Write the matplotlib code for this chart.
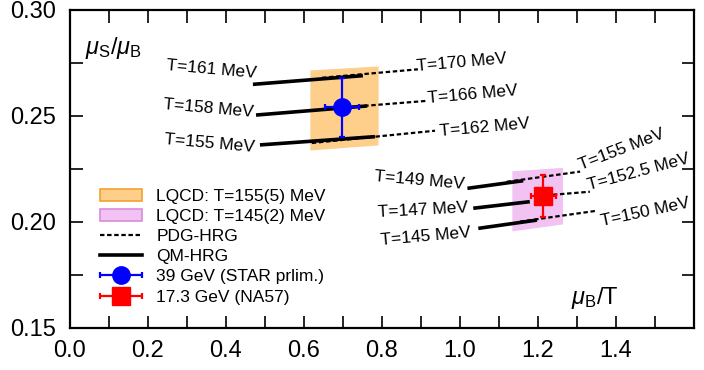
import matplotlib
matplotlib.use('Agg')
import matplotlib.pyplot as plt
from matplotlib.patches import Patch
from matplotlib.lines import Line2D
from matplotlib.legend_handler import HandlerErrorbar
from matplotlib.ticker import MultipleLocator, FixedLocator, FormatStrFormatter

plt.rcParams['font.family'] = ['Liberation Sans', 'DejaVu Sans']
plt.rcParams['mathtext.fontset'] = 'custom'
plt.rcParams['mathtext.rm'] = 'Liberation Sans'
plt.rcParams['mathtext.it'] = 'Liberation Sans:italic'
plt.rcParams['mathtext.sf'] = 'Liberation Sans'

# ---- data ----
# LQCD bands
lq155_x = [0.615, 0.790]
lq155_lo = [0.2339, 0.2363]
lq155_hi = [0.2717, 0.2736]
lq145_x = [1.133, 1.263]
lq145_lo = [0.1957, 0.1990]
lq145_hi = [0.2241, 0.2257]

# QM-HRG (solid)
qm_labels = ['T=161 MeV', 'T=158 MeV', 'T=155 MeV', 'T=149 MeV', 'T=147 MeV', 'T=145 MeV']
qm_x = [[0.469, 0.751], [0.477, 0.762], [0.487, 0.782],
        [1.019, 1.162], [1.034, 1.179], [1.047, 1.197]]
qm_y = [[0.2649, 0.2690], [0.2504, 0.2547], [0.2363, 0.2402],
        [0.2158, 0.2194], [0.2064, 0.2095], [0.1969, 0.2008]]

# PDG-HRG (dashed)
pdg_labels = ['T=170 MeV', 'T=166 MeV', 'T=162 MeV', 'T=155 MeV', 'T=152.5 MeV', 'T=150 MeV']
pdg_x = [[0.646, 0.892], [0.718, 0.915], [0.620, 0.936],
         [1.120, 1.308], [1.220, 1.333], [1.154, 1.350]]
pdg_y = [[0.2680, 0.2720], [0.2542, 0.2571], [0.2372, 0.2430],
         [0.2189, 0.2237], [0.2125, 0.2142], [0.2001, 0.2052]]

# experimental points
star_x, star_y, star_xerr, star_yerr = [0.697], [0.254], [0.044], [0.014]
na57_x, na57_y, na57_xerr, na57_yerr = [1.2136], [0.2122], [0.032], [0.010]

# axis tick labels
x_ticks = [0.0, 0.2, 0.4, 0.6, 0.8, 1.0, 1.2, 1.4]
y_ticks = [0.15, 0.20, 0.25, 0.30]

# label placement (x, y, rotation)
qm_label_pos = [(0.364, 0.2721, -5), (0.354, 0.2537, -5), (0.359, 0.2372, -5),
                (0.897, 0.2197, -5), (0.905, 0.2056, 3), (0.913, 0.1928, 5)]
pdg_label_pos = [(1.005, 0.2754, 5), (1.033, 0.2599, 5), (1.064, 0.2443, 5),
                 (1.415, 0.2339, 21), (1.459, 0.2235, 15), (1.474, 0.2046, 12)]

# ---- figure ----
fig = plt.figure(figsize=(7.04, 3.70), dpi=100)
ax = fig.add_axes([70/704, 1-327.7/370, 624/704, 317.7/370])

orange_face, orange_edge = '#FDCF8B', '#F2A232'
pink_face, pink_edge = '#F2C2F2', '#DA8ADC'

ax.fill_between(lq155_x, lq155_lo, lq155_hi, color=orange_face, lw=0, zorder=1)
ax.fill_between(lq145_x, lq145_lo, lq145_hi, color=pink_face, lw=0, zorder=1)

for xs, ys in zip(qm_x, qm_y):
    ax.plot(xs, ys, color='black', lw=2.6, solid_capstyle='butt', zorder=3)
for xs, ys in zip(pdg_x, pdg_y):
    ax.plot(xs, ys, color='black', lw=1.6, dashes=(2.0, 1.2), zorder=3)

for lab, (x, y, r) in zip(qm_labels, qm_label_pos):
    ax.text(x, y, lab, fontsize=12.5, rotation=r, ha='center', va='center',
            rotation_mode='anchor', zorder=5)
for lab, (x, y, r) in zip(pdg_labels, pdg_label_pos):
    ax.text(x, y, lab, fontsize=12.5, rotation=r, ha='center', va='center',
            rotation_mode='anchor', zorder=5)

eb1 = ax.errorbar(star_x, star_y, xerr=star_xerr, yerr=star_yerr, fmt='o',
                  color='#0000FF', ms=12.5, lw=1.6, capsize=2.5, capthick=1.6, zorder=6,
                  label='39 GeV (STAR prlim.)')
eb2 = ax.errorbar(na57_x, na57_y, xerr=na57_xerr, yerr=na57_yerr, fmt='s',
                  color='#FF0000', ms=12.5, lw=1.6, capsize=2.5, capthick=1.6, zorder=6,
                  label='17.3 GeV (NA57)')

ax.set_xlim(0.0, 1.6)
ax.set_ylim(0.15, 0.30)
ax.xaxis.set_major_locator(FixedLocator(x_ticks))
ax.xaxis.set_minor_locator(MultipleLocator(0.1))
ax.yaxis.set_major_locator(FixedLocator(y_ticks))
ax.yaxis.set_minor_locator(MultipleLocator(0.025))
ax.xaxis.set_major_formatter(FormatStrFormatter('%.1f'))
ax.yaxis.set_major_formatter(FormatStrFormatter('%.2f'))
ax.tick_params(which='both', direction='in', top=True, right=True,
               length=9, width=1.2, labelsize=17)
ax.tick_params(axis='x', which='major', pad=9)
ax.tick_params(axis='y', which='major', pad=10)
for s in ax.spines.values():
    s.set_linewidth(1.6)

ax.text(0.11, 0.282, r'$\mu_{\rm S}/\mu_{\rm B}$', fontsize=17, ha='center', va='center')
ax.text(1.346, 0.164, r'$\mu_{\rm B}/{\rm T}$', fontsize=17, ha='center', va='center')

handles = [Patch(facecolor=orange_face, edgecolor=orange_edge, lw=1.2),
           Patch(facecolor=pink_face, edgecolor=pink_edge, lw=1.2),
           Line2D([], [], color='black', lw=1.6, dashes=(2.0, 1.2)),
           Line2D([], [], color='black', lw=2.6),
           eb1, eb2]
labels = ['LQCD: T=155(5) MeV', 'LQCD: T=145(2) MeV', 'PDG-HRG', 'QM-HRG',
          '39 GeV (STAR prlim.)', '17.3 GeV (NA57)']
hm = {eb1: HandlerErrorbar(xerr_size=1.2, yerr_size=0.0, numpoints=1),
      eb2: HandlerErrorbar(xerr_size=1.2, yerr_size=0.0, numpoints=1)}
ax.legend(handles, labels, handler_map=hm, loc='upper left',
          bbox_to_anchor=(100/704, 1-188.5/370), bbox_transform=fig.transFigure,
          frameon=False, fontsize=12.5, borderpad=0, borderaxespad=0,
          handlelength=2.4, handletextpad=0.85, labelspacing=0.29, numpoints=1)

fig.savefig('out.png', dpi=100)
